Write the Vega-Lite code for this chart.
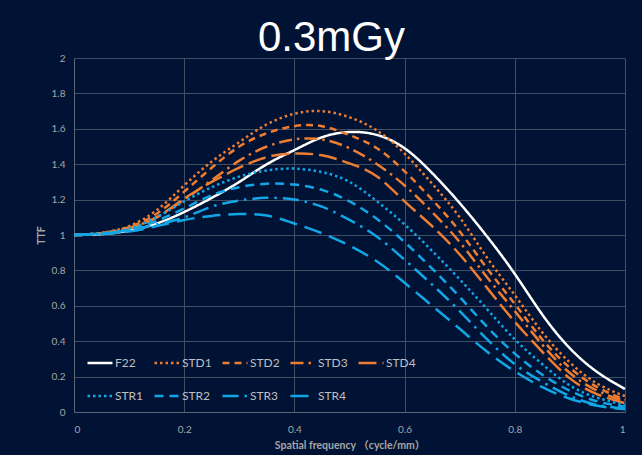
{
  "$schema": "https://vega.github.io/schema/vega-lite/v6.json",
  "width": 551,
  "height": 354,
  "autosize": {"type": "none"},
  "padding": {"left": 74, "top": 58, "right": 17, "bottom": 43},
  "background": "#011335",
  "title": {"text": "0.3mGy", "fontSize": 42, "font": "Liberation Sans", "fontWeight": "normal", "color": "#ffffff", "anchor": "middle", "baseline": "bottom", "offset": -3, "dx": -18, "dy": 46},
  "data": {"values": [
    {"x": 0, "F22": 1, "STD1": 1, "STD2": 1, "STD3": 1, "STD4": 1, "STR1": 1, "STR2": 1, "STR3": 1, "STR4": 1},
    {"x": 0.05, "F22": 1.005, "STD1": 1.012, "STD2": 1.01, "STD3": 1.01, "STD4": 1.01, "STR1": 1.01, "STR2": 1.008, "STR3": 1.006, "STR4": 1.005},
    {"x": 0.1, "F22": 1.025, "STD1": 1.05, "STD2": 1.045, "STD3": 1.04, "STD4": 1.038, "STR1": 1.035, "STR2": 1.03, "STR3": 1.025, "STR4": 1.02},
    {"x": 0.15, "F22": 1.065, "STD1": 1.14, "STD2": 1.12, "STD3": 1.1, "STD4": 1.1, "STR1": 1.1, "STR2": 1.08, "STR3": 1.06, "STR4": 1.05},
    {"x": 0.2, "F22": 1.13, "STD1": 1.28, "STD2": 1.245, "STD3": 1.2, "STD4": 1.205, "STR1": 1.19, "STR2": 1.15, "STR3": 1.1, "STR4": 1.085},
    {"x": 0.25, "F22": 1.21, "STD1": 1.415, "STD2": 1.38, "STD3": 1.31, "STD4": 1.3, "STR1": 1.27, "STR2": 1.225, "STR3": 1.16, "STR4": 1.108},
    {"x": 0.3, "F22": 1.3, "STD1": 1.525, "STD2": 1.5, "STD3": 1.42, "STD4": 1.38, "STR1": 1.33, "STR2": 1.27, "STR3": 1.195, "STR4": 1.118},
    {"x": 0.35, "F22": 1.4, "STD1": 1.625, "STD2": 1.575, "STD3": 1.5, "STD4": 1.44, "STR1": 1.365, "STR2": 1.29, "STR3": 1.21, "STR4": 1.11},
    {"x": 0.4, "F22": 1.48, "STD1": 1.685, "STD2": 1.615, "STD3": 1.54, "STD4": 1.46, "STR1": 1.375, "STR2": 1.285, "STR3": 1.2, "STR4": 1.065},
    {"x": 0.45, "F22": 1.552, "STD1": 1.7, "STD2": 1.615, "STD3": 1.54, "STD4": 1.45, "STR1": 1.355, "STR2": 1.255, "STR3": 1.16, "STR4": 1.01},
    {"x": 0.5, "F22": 1.582, "STD1": 1.665, "STD2": 1.565, "STD3": 1.49, "STD4": 1.405, "STR1": 1.3, "STR2": 1.19, "STR3": 1.085, "STR4": 0.94},
    {"x": 0.55, "F22": 1.565, "STD1": 1.59, "STD2": 1.49, "STD3": 1.4, "STD4": 1.33, "STR1": 1.19, "STR2": 1.09, "STR3": 0.99, "STR4": 0.85},
    {"x": 0.6, "F22": 1.49, "STD1": 1.46, "STD2": 1.36, "STD3": 1.28, "STD4": 1.19, "STR1": 1.06, "STR2": 0.96, "STR3": 0.86, "STR4": 0.73},
    {"x": 0.65, "F22": 1.35, "STD1": 1.29, "STD2": 1.2, "STD3": 1.13, "STD4": 1.05, "STR1": 0.91, "STR2": 0.81, "STR3": 0.72, "STR4": 0.6},
    {"x": 0.7, "F22": 1.18, "STD1": 1.1, "STD2": 1.02, "STD3": 0.96, "STD4": 0.89, "STR1": 0.75, "STR2": 0.65, "STR3": 0.57, "STR4": 0.47},
    {"x": 0.75, "F22": 0.99, "STD1": 0.87, "STD2": 0.81, "STD3": 0.76, "STD4": 0.7, "STR1": 0.58, "STR2": 0.48, "STR3": 0.41, "STR4": 0.34},
    {"x": 0.8, "F22": 0.78, "STD1": 0.66, "STD2": 0.61, "STD3": 0.57, "STD4": 0.51, "STR1": 0.41, "STR2": 0.33, "STR3": 0.27, "STR4": 0.23},
    {"x": 0.85, "F22": 0.55, "STD1": 0.45, "STD2": 0.41, "STD3": 0.38, "STD4": 0.34, "STR1": 0.27, "STR2": 0.21, "STR3": 0.17, "STR4": 0.14},
    {"x": 0.9, "F22": 0.36, "STD1": 0.28, "STD2": 0.25, "STD3": 0.22, "STD4": 0.19, "STR1": 0.15, "STR2": 0.12, "STR3": 0.09, "STR4": 0.075},
    {"x": 0.95, "F22": 0.225, "STD1": 0.16, "STD2": 0.14, "STD3": 0.12, "STD4": 0.1, "STR1": 0.08, "STR2": 0.06, "STR3": 0.04, "STR4": 0.035},
    {"x": 1.0, "F22": 0.13, "STD1": 0.09, "STD2": 0.07, "STD3": 0.06, "STD4": 0.05, "STR1": 0.04, "STR2": 0.03, "STR3": 0.02, "STR4": 0.015}
  ]},
  "transform": [{"fold": ["F22", "STD1", "STD2", "STD3", "STD4", "STR1", "STR2", "STR3", "STR4"], "as": ["series", "ttf"]}],
  "mark": {"type": "line", "interpolate": "natural", "strokeWidth": 2.5},
  "encoding": {
    "x": {"field": "x", "type": "quantitative", "scale": {"domain": [0, 1], "nice": false},
      "axis": {"values": [0, 0.2, 0.4, 0.6, 0.8, 1], "format": "~g", "title": "Spatial frequency （cycle/mm）", "labelPadding": 12, "titlePadding": 6}},
    "y": {"field": "ttf", "type": "quantitative", "scale": {"domain": [0, 2], "nice": false},
      "axis": {"values": [0, 0.2, 0.4, 0.6, 0.8, 1, 1.2, 1.4, 1.6, 1.8, 2], "format": "~g", "title": "TTF", "labelPadding": 9, "titlePadding": 5}},
    "color": {"field": "series", "type": "nominal",
      "scale": {"domain": ["F22", "STD1", "STD2", "STD3", "STD4", "STR1", "STR2", "STR3", "STR4"],
        "range": ["#ffffff", "#ed7d31", "#ed7d31", "#ed7d31", "#ed7d31", "#12a6e6", "#12a6e6", "#12a6e6", "#12a6e6"]},
      "legend": {"orient": "none", "legendX": 12, "legendY": 291, "direction": "horizontal", "columns": 5, "title": null,
        "symbolType": "stroke", "symbolSize": 625, "symbolStrokeWidth": 2.5, "labelColor": "#bfbfbf", "labelFontSize": 12, "labelFont": "Lato",
        "rowPadding": 13, "columnPadding": 5, "labelOffset": 1}},
    "strokeDash": {"field": "series", "type": "nominal",
      "scale": {"domain": ["F22", "STD1", "STD2", "STD3", "STD4", "STR1", "STR2", "STR3", "STR4"],
        "range": [[1, 0], [2.5, 3], [7, 5], [13, 5, 2.5, 5], [18, 6], [2.5, 3], [9, 6], [16, 6, 2.5, 6], [18, 8]]}}
  },
  "config": {
    "view": {"stroke": null},
    "axis": {"gridColor": "#414d63", "gridWidth": 1, "domainColor": "#5a6578", "domainWidth": 1, "ticks": false,
      "labelColor": "#a6a6a6", "labelFont": "Lato", "labelFontSize": 10, "titleColor": "#a6a6a6", "titleFont": "Lato, Noto Sans CJK JP", "titleFontSize": 10.5, "titleFontWeight": "bold"}
  }
}
